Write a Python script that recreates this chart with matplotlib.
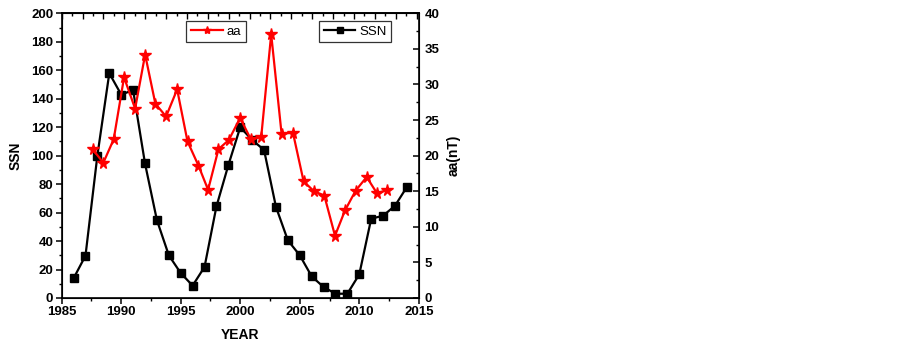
import matplotlib
matplotlib.use("Agg")
import matplotlib.pyplot as plt
from matplotlib.ticker import MultipleLocator

plt.rcParams["font.family"] = ["Liberation Sans", "DejaVu Sans"]

# Sunspot number, yearly
ssn_year = [1986, 1987, 1988, 1989, 1990, 1991, 1992, 1993, 1994, 1995,
            1996, 1997, 1998, 1999, 2000, 2001, 2002, 2003, 2004, 2005,
            2006, 2007, 2008, 2009, 2010, 2011, 2012, 2013, 2014]
ssn = [13.8, 29.7, 100.1, 157.9, 142.9, 146.0, 94.5, 54.7, 30.0, 17.5,
       8.7, 21.8, 64.3, 93.3, 120.0, 111.0, 104.0, 64.0, 40.5, 30.0,
       15.2, 7.7, 3.0, 3.0, 16.6, 55.7, 57.8, 64.8, 78.0]

# aa index (nT)
aa_year = [1987.60, 1988.50, 1989.37, 1990.24, 1991.17, 1992.01, 1992.87,
           1993.77, 1994.70, 1995.57, 1996.49, 1997.30, 1998.17, 1999.04,
           1999.99, 2000.89, 2001.76, 2002.60, 2003.47, 2004.43, 2005.32,
           2006.19, 2007.06, 2007.96, 2008.80, 2009.70, 2010.62, 2011.49,
           2012.36]
aa = [20.9, 19.0, 22.3, 31.0, 26.6, 34.2, 27.3, 25.5, 29.3, 22.0,
      18.6, 15.2, 20.9, 22.2, 25.3, 22.3, 22.6, 37.05, 23.1, 23.2,
      16.4, 15.0, 14.4, 8.75, 12.3, 15.1, 17.0, 14.7, 15.2]

fig = plt.figure(figsize=(9.03, 3.48), dpi=100)
ax = fig.add_axes([0.0683, 0.1437, 0.3955, 0.8181])

ax.plot(ssn_year, ssn, "s-", color="black", lw=1.6, ms=6.2, label="SSN",
        zorder=3)
ax.set_xlim(1985, 2015)
ax.set_ylim(0, 200)
ax.xaxis.set_major_locator(MultipleLocator(5))
ax.xaxis.set_minor_locator(MultipleLocator(2.5))
ax.yaxis.set_major_locator(MultipleLocator(20))
ax.yaxis.set_minor_locator(MultipleLocator(10))
ax.tick_params(which="major", direction="out", length=4.5, width=1.1,
               labelsize=9.5, pad=1.5)
ax.tick_params(which="minor", direction="out", length=2.5, width=1.0)
for lab in ax.get_xticklabels() + ax.get_yticklabels():
    lab.set_fontweight("bold")
ax.set_xlabel("YEAR", fontsize=10, fontweight="bold", labelpad=7)
ax.set_ylabel("SSN", fontsize=10, fontweight="bold", labelpad=6)
for sp in ax.spines.values():
    sp.set_linewidth(1.2)

# right axis for aa
ax2 = ax.twinx()
ax2.plot(aa_year, aa, "*-", color="red", lw=1.6, ms=8.5, label="aa",
         zorder=3)
ax2.set_ylim(0, 40)
ax2.yaxis.set_major_locator(MultipleLocator(5))
ax2.yaxis.set_minor_locator(MultipleLocator(2.5))
ax2.tick_params(which="major", direction="in", length=4.5, width=1.1,
                labelsize=9.5, pad=4)
ax2.tick_params(which="minor", direction="in", length=2.5, width=1.0)
for lab in ax2.get_yticklabels():
    lab.set_fontweight("bold")
ax2.set_ylabel("aa(nT)", fontsize=10, fontweight="bold", labelpad=5)

# top axis ticks (no labels)
step = 0.877
top = ax.secondary_xaxis("top", functions=(lambda x: (x - 1985) / step,
                                           lambda t: t * step + 1985))
top.xaxis.set_major_locator(MultipleLocator(2))
top.xaxis.set_minor_locator(MultipleLocator(1))
top.tick_params(which="major", direction="in", length=4, width=1.0,
                labelbottom=False, labeltop=False)
top.tick_params(which="minor", direction="in", length=2.5, width=1.0)
top.spines["top"].set_linewidth(1.2)

leg_kw = dict(fontsize=9.5, frameon=True, fancybox=False, numpoints=1,
              handlelength=2.4, borderpad=0.35, handletextpad=0.3,
              borderaxespad=0.0, markerscale=0.7)
l1 = ax2.legend(loc="upper left", bbox_to_anchor=(0.2065, 0.94),
                bbox_transform=fig.transFigure, **leg_kw)
l2 = ax.legend(loc="upper left", bbox_to_anchor=(0.3535, 0.94),
               bbox_transform=fig.transFigure, **leg_kw)
for lg in (l1, l2):
    lg.get_frame().set_edgecolor("black")
    lg.get_frame().set_linewidth(0.9)
    lg.set_zorder(10)

fig.savefig("out.png", dpi=100)
